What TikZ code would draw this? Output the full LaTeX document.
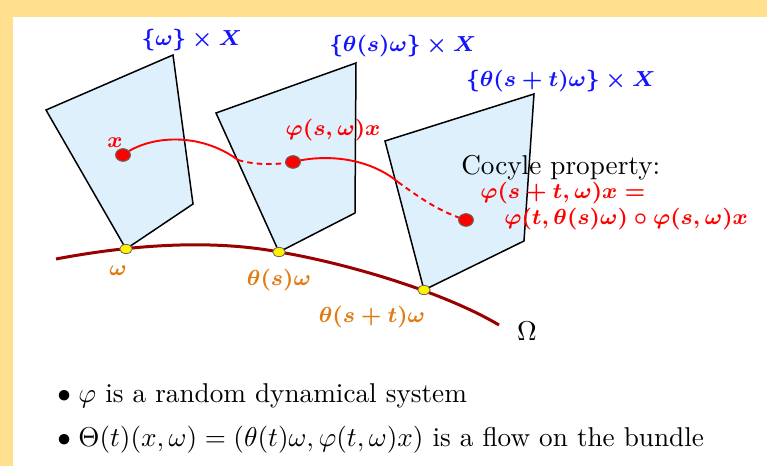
\documentclass[tikz,border=0pt]{standalone}
\usetikzlibrary{shapes.geometric}
\definecolor{frameyellow}{RGB}{255,224,143}
\definecolor{planefill}{RGB}{222,240,252}
\definecolor{omegared}{RGB}{153,0,0}
\definecolor{labelorange}{RGB}{226,122,16}
\definecolor{labelblue}{RGB}{20,20,255}
\definecolor{pathred}{RGB}{255,0,0}
\tikzset{
  plane/.style={draw=black, fill=planefill, line width=0.55pt, line join=miter},
  basedot/.style={shape=ellipse, draw=black!60, line width=0.3pt, fill=yellow, minimum width=4.6pt, minimum height=3.4pt, inner sep=0pt},
  reddot/.style={shape=ellipse, draw=black!60, line width=0.3pt, fill=pathred, minimum width=5.4pt, minimum height=4.6pt, inner sep=0pt},
  redpath/.style={draw=pathred, line width=0.7pt},
  reddash/.style={draw=pathred, line width=0.7pt, dash pattern=on 2pt off 1.5pt},
  smallbold/.style={font=\fontsize{8.1}{10}\selectfont\boldmath},
  fiberlabel/.style={smallbold, text=labelblue, inner sep=1pt},
  baselabel/.style={smallbold, text=labelorange, inner sep=1pt},
  redlabel/.style={smallbold, text=pathred, inner sep=1pt},
  txt/.style={text=black, inner sep=1pt}
}
\begin{document}
\begin{tikzpicture}[x=0.3676pt, y=-0.3676pt]
\useasboundingbox (0,0) rectangle (767,466);
\fill[white] (0,0) rectangle (767,466);
\fill[frameyellow] (0,0) rectangle (767,17);
\fill[frameyellow] (0,0) rectangle (13,466);

% fibres
\draw[plane] (46,110) -- (173,55) -- (193,204) -- (126,249) -- cycle;
\draw[plane] (216,113) -- (356,63) -- (355,213) -- (279,252) -- cycle;
\draw[plane] (385,141) -- (534,94) -- (524,241) -- (424,290) -- cycle;

% base space Omega
\coordinate (os) at (56,259);
\coordinate (oe) at (499,325);
\draw[omegared, line width=1.1pt] (os) .. controls (130,245) and (210,239) .. (279,252)
   .. controls (340,262) and (440,290) .. (oe);

% trajectory
\node[reddot] (d1) at (123,155) {};
\node[reddot] (d2) at (293,162) {};
\node[reddot] (d3) at (466,220) {};
\coordinate (c1) at (238,160);
\coordinate (c2) at (398,182);
\draw[redpath] (d1.center) .. controls (150,135) and (200,132) .. (c1);
\draw[reddash] (c1) .. controls (255,165) and (275,165) .. (d2.center);
\draw[redpath] (d2.center) .. controls (320,155) and (365,155) .. (c2);
\draw[reddash] (c2) .. controls (420,198) and (440,212) .. (d3.center);
\node[reddot] at (d1) {};
\node[reddot] at (d2) {};
\node[reddot] at (d3) {};

% base points
\node[basedot] (w1) at (126,249) {};
\node[basedot] (w2) at (279,252) {};
\node[basedot] (w3) at (424,290) {};

% labels
\node[fiberlabel] (f1) at (192,40) {$\{\omega\}\times X$};
\node[fiberlabel] (f2) at (403,46) {$\{\theta(s)\omega\}\times X$};
\node[fiberlabel] (f3) at (561,81) {$\{\theta(s+t)\omega\}\times X$};
\node[redlabel] (lx) at (115,143) {$x$};
\node[redlabel] (lphi) at (333,130) {$\varphi(s,\omega)x$};
\node[txt, anchor=west] (coc) at (458,168) {Cocyle property:};
\node[redlabel, anchor=west] (coc1) at (477,193) {$\varphi(s+t,\omega)x=$};
\node[redlabel, anchor=west] (coc2) at (501,219) {$\varphi(t,\theta(s)\omega)\circ\varphi(s,\omega)x$};
\node[baselabel] (lw1) at (118,271) {$\omega$};
\node[baselabel] (lw2) at (279,280) {$\theta(s)\omega$};
\node[baselabel] (lw3) at (372,317) {$\theta(s+t)\omega$};
\node[txt] (lO) at (527,331) {$\Omega$};

% bullets
\node[txt, anchor=west] (b1) at (54,396) {$\bullet\;\varphi$ is a random dynamical system};
\node[txt, anchor=west] (b2) at (54,440) {$\bullet\;\Theta(t)(x,\omega)=(\theta(t)\omega,\varphi(t,\omega)x)$ is a flow on the bundle};
\end{tikzpicture}
\end{document}
